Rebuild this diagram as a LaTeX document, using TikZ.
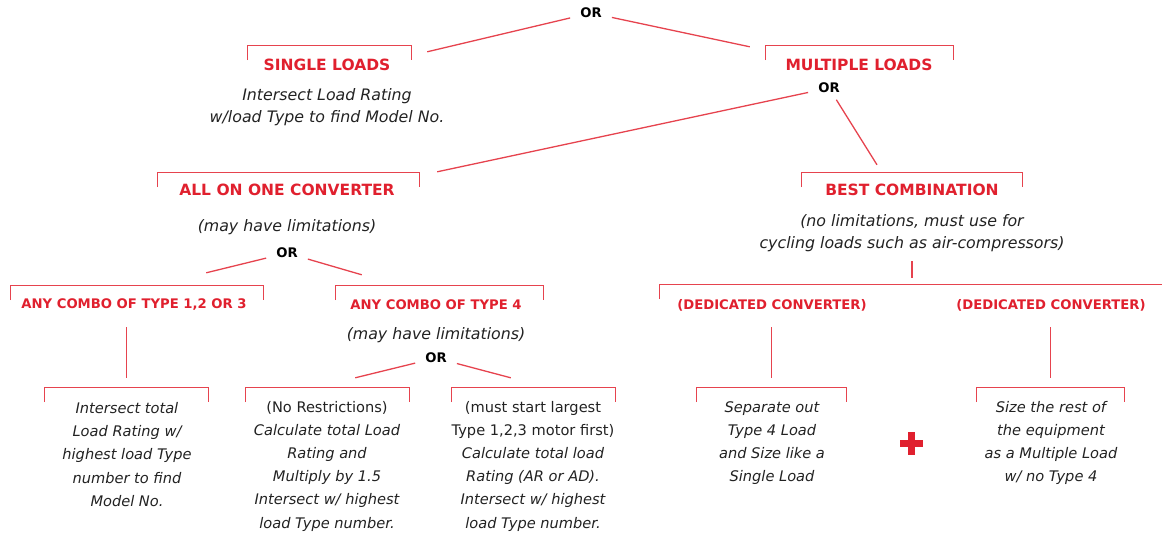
\documentclass[tikz,border=0pt]{standalone}
\usepackage{fontspec}
\setmainfont{DejaVu Sans}
\usetikzlibrary{positioning}
\definecolor{hred}{HTML}{E0202E}
\definecolor{lred}{HTML}{E6434E}
\definecolor{ink}{HTML}{222222}

\tikzset{
  head/.style={text=hred,font=\fontsize{15.5}{18}\selectfont\bfseries,inner sep=0pt},
  subhead/.style={text=hred,font=\fontsize{13.2}{16}\selectfont\bfseries,inner sep=0pt},
  note/.style={text=ink,font=\fontsize{15.8}{22.5}\selectfont\itshape,align=center,inner sep=0pt},
  stepnote/.style={text=ink,font=\fontsize{14.6}{23.2}\selectfont\itshape,align=center,inner sep=0pt},
  ornode/.style={text=black,font=\fontsize{13.2}{14}\selectfont\bfseries,inner xsep=10pt,inner ysep=4pt},
  link/.style={draw=lred,line width=1.3pt},
  brk/.style={draw=none,inner sep=0pt,minimum height=14pt},
}
% bracket: top edge plus two short ticks
\newcommand{\drawbrk}[1]{\draw[link] (#1.south west) -- (#1.north west) -- (#1.north east) -- (#1.south east);}

\begin{document}
\begin{tikzpicture}[x=1pt,y=-1pt]
  \clip (0,0) rectangle (1162,536);

  % top level
  \node[ornode] (or1) at (591,13) {OR};
  \node[brk,minimum width=163pt] (singleBr) at (329.5,53) {};
  \node[head] (singleHead) at (327,65) {SINGLE LOADS};
  \node[note] (singleNote) at (327,107) {Intersect Load Rating\\w/load Type to find Model No.};
  \node[brk,minimum width=187pt] (multiBr) at (859.5,53) {};
  \node[head] (multiHead) at (859,65) {MULTIPLE LOADS};
  \node[ornode] (or2) at (829,88) {OR};

  % second level
  \node[brk,minimum width=261pt] (allBr) at (288.5,180) {};
  \node[head] (allHead) at (287,190) {ALL ON ONE CONVERTER};
  \node[note] (allNote) at (287,227) {(may have limitations)};
  \node[ornode] (or3) at (287,253) {OR};
  \node[brk,minimum width=220pt] (bestBr) at (912,180) {};
  \node[head] (bestHead) at (912,190) {BEST COMBINATION};
  \node[note] (bestNote) at (912,233) {(no limitations, must use for\\cycling loads such as air-compressors)};

  % third level
  \node[brk,minimum width=252pt] (comboABr) at (137,293) {};
  \node[subhead] (comboA) at (134,305) {ANY COMBO OF TYPE 1,2 OR 3};
  \node[brk,minimum width=207pt] (comboBBr) at (439.5,293) {};
  \node[subhead] (comboB) at (436,305) {ANY COMBO OF TYPE 4};
  \node[note] (comboBNote) at (436,335) {(may have limitations)};
  \node[ornode] (or4) at (436,358) {OR};
  \node[brk,minimum width=508pt] (dedBr) at (914,292) {};
  \node[subhead] (dedA) at (772,305) {(DEDICATED CONVERTER)};
  \node[subhead] (dedB) at (1051,305) {(DEDICATED CONVERTER)};

  % bottom level
  \node[brk,minimum width=163pt] (intBr) at (126.5,395) {};
  \node[stepnote] (intText) at (127,454.5) {Intersect total\\Load Rating w/\\highest load Type\\number to find\\Model No.};
  \node[brk,minimum width=163pt] (noRestrBr) at (327.5,395) {};
  \node[stepnote] (noRestrText) at (327,466) {\upshape(No Restrictions)\\Calculate total Load\\Rating and\\Multiply by 1.5\\Intersect w/ highest\\load Type number.};
  \node[brk,minimum width=163pt] (largestBr) at (533.5,395) {};
  \node[stepnote] (largestText) at (533,466) {\upshape(must start largest\\\upshape Type 1,2,3 motor first)\\Calculate total load\\Rating (AR or AD).\\Intersect w/ highest\\load Type number.};
  \node[brk,minimum width=149pt] (sepBr) at (771.5,395) {};
  \node[stepnote] (sepText) at (772,443) {Separate out\\Type 4 Load\\and Size like a\\Single Load};
  \node[brk,minimum width=147pt] (restBr) at (1050.5,395) {};
  \node[stepnote] (restText) at (1051,443) {Size the rest of\\the equipment\\as a Multiple Load\\w/ no Type 4};

  % brackets
  \foreach \b in {singleBr,multiBr,allBr,bestBr,comboABr,comboBBr,dedBr,intBr,noRestrBr,largestBr,sepBr,restBr}
    {\drawbrk{\b}}

  % connectors
  \draw[link] (or1) -- ([shift={(16,6)}]singleBr.north east);
  \draw[link] (or1) -- ([shift={(-16,1)}]multiBr.north west);
  \draw[link] (or2) -- ([shift={(18,-1)}]allBr.north east);
  \draw[link,shorten <=3pt] (or2) -- ([shift={(-35,-8)}]bestBr.north);
  \draw[link] (or3) -- ([shift={(-57,-13)}]comboABr.north east);
  \draw[link] (or3) -- ([shift={(26,-11)}]comboBBr.north west);
  \draw[link] (or4) -- ([shift={(-54,-10)}]noRestrBr.north east);
  \draw[link] (or4) -- ([shift={(59,-10)}]largestBr.north west);
  \draw[link,shorten <=9pt,shorten >=7pt] (bestNote.south) -- (bestNote.south |- dedBr.north);
  \draw[link,shorten <=16pt,shorten >=10pt] (intBr.north |- comboA.south) -- (intBr.north);
  \draw[link,shorten <=16pt,shorten >=10pt] (sepBr.north |- dedA.south) -- (sepBr.north);
  \draw[link,shorten <=16pt,shorten >=10pt] (restBr.north |- dedB.south) -- (restBr.north);

  % plus sign
  \fill[hred] (899.5,439.5) rectangle (922.5,446.5);
  \fill[hred] (907.5,431.5) rectangle (914.5,454.5);
\end{tikzpicture}
\end{document}
